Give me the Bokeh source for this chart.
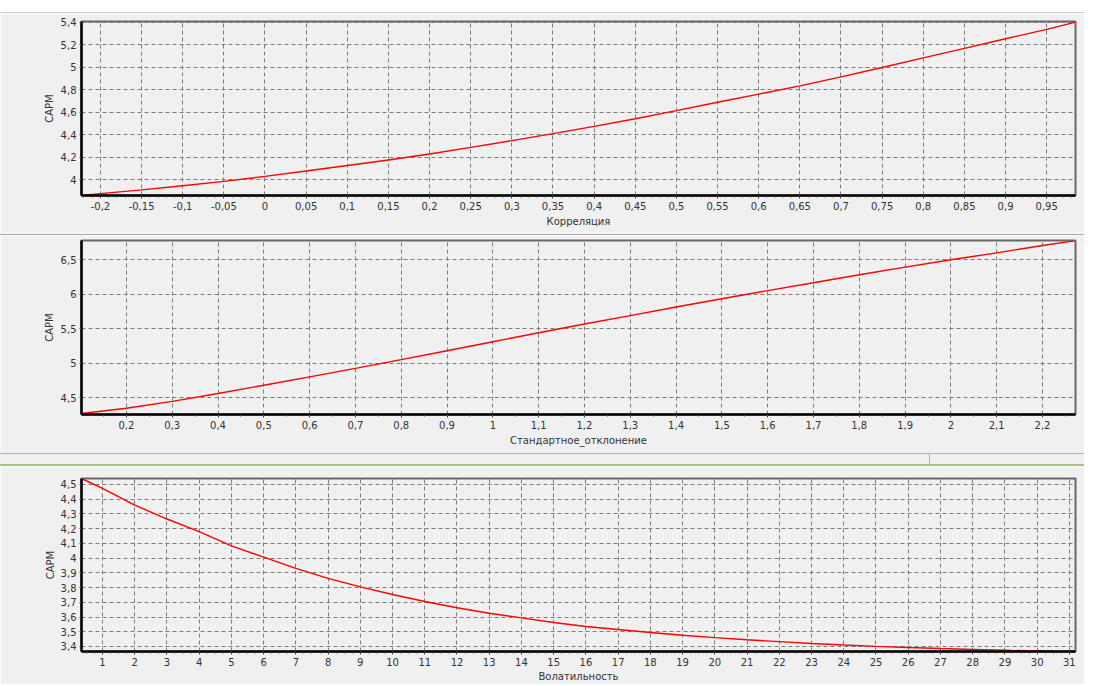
import numpy as np
from bokeh.plotting import figure
from bokeh.models import Range1d, FixedTicker, CustomJSTickFormatter, Div
from bokeh.layouts import column
from bokeh.embed import file_html
from bokeh.resources import INLINE

# ---------------- data ----------------
corr_x = [-0.223, -0.2, -0.15, -0.1, -0.05, 0.0, 0.05, 0.1, 0.15, 0.2, 0.25, 0.3,
          0.35, 0.4, 0.45, 0.5, 0.55, 0.6, 0.65, 0.7, 0.75, 0.8, 0.85, 0.9, 0.95, 0.985]
corr_capm = [3.861, 3.877, 3.910, 3.947, 3.985, 4.030, 4.078, 4.126, 4.175, 4.229, 4.287, 4.347,
             4.409, 4.474, 4.542, 4.614, 4.688, 4.760, 4.833, 4.913, 4.997, 5.082, 5.166, 5.252,
             5.335, 5.400]

std_x = [0.102, 0.2, 0.3, 0.4, 0.5, 0.6, 0.7, 0.8, 0.9, 1.0, 1.1, 1.2, 1.3, 1.4, 1.5,
         1.6, 1.7, 1.8, 1.9, 2.0, 2.1, 2.2, 2.27]
std_capm = [4.268, 4.345, 4.445, 4.558, 4.679, 4.800, 4.923, 5.050, 5.180, 5.310, 5.440,
            5.567, 5.690, 5.815, 5.935, 6.052, 6.167, 6.283, 6.394, 6.500, 6.601, 6.708, 6.775]

vol_x = [0.35, 1, 2, 3, 4, 5, 6, 7, 8, 9, 10, 11, 12, 13, 14, 15, 16, 17, 18, 19, 20,
         21, 22, 23, 24, 25, 26, 27, 28, 29, 29.2, 30.5]
vol_capm = [4.540, 4.473, 4.360, 4.265, 4.180, 4.083, 4.007, 3.930, 3.862, 3.805, 3.753,
            3.705, 3.663, 3.626, 3.594, 3.563, 3.536, 3.515, 3.495, 3.476, 3.460, 3.446,
            3.433, 3.420, 3.410, 3.401, 3.393, 3.386, 3.380, 3.375, 3.373, 3.368]

corr_xticks = [round(v, 2) for v in np.arange(-0.2, 0.951, 0.05)]
corr_yticks = [4.0, 4.2, 4.4, 4.6, 4.8, 5.0, 5.2, 5.4]
std_xticks = [round(v, 1) for v in np.arange(0.2, 2.21, 0.1)]
std_yticks = [4.5, 5.0, 5.5, 6.0, 6.5]
vol_xticks = list(range(1, 32))
vol_yticks = [round(v, 1) for v in np.arange(3.4, 4.51, 0.1)]

corr_xminor = [round(v, 3) for v in np.arange(-0.22, 0.99, 0.01)]
std_xminor = [round(v, 3) for v in np.arange(0.15, 2.27, 0.05)]
vol_xminor = [round(v, 3) for v in np.arange(0.5, 31.2, 0.25)]

FONT = "DejaVu Sans"
TXT = "#333333"
BG = "#f0f0f0"
W = 1084

fmt_code = "return (Math.round(tick*1000)/1000).toString().replace('.', ',');"


def make_fig(height, xr, yr, xticks, xminor, yticks, xlabel, x, y,
             left, right, top, bottom, lab_standoff=3, maj_standoff=3):
    p = figure(width=W, height=height, x_range=Range1d(*xr), y_range=Range1d(*yr),
               output_backend="svg", toolbar_location=None,
               min_border_left=left, min_border_right=right,
               min_border_top=top, min_border_bottom=bottom)
    p.background_fill_color = BG
    p.border_fill_color = BG
    p.outline_line_color = "#686868"
    p.outline_line_width = 2

    p.xaxis.ticker = FixedTicker(ticks=xticks, minor_ticks=xminor)
    p.yaxis.ticker = FixedTicker(ticks=yticks)
    p.xaxis.formatter = CustomJSTickFormatter(code=fmt_code)
    p.yaxis.formatter = CustomJSTickFormatter(code=fmt_code)
    p.xaxis.axis_label = xlabel
    p.yaxis.axis_label = "CAPM"

    for ax in (p.xaxis, p.yaxis):
        ax.axis_line_color = "black"
        ax.axis_line_width = 2.5
        ax.major_label_text_font = FONT
        ax.major_label_text_font_size = "10px"
        ax.major_label_text_color = TXT
        ax.axis_label_text_font = FONT
        ax.axis_label_text_font_size = "10px"
        ax.axis_label_text_font_style = "normal"
        ax.axis_label_text_color = TXT
        ax.major_tick_in = 0
        ax.minor_tick_in = 0
        ax.major_tick_line_color = "#444444"
        ax.minor_tick_line_color = "#444444"
        ax.axis_label_standoff = lab_standoff
        ax.major_label_standoff = maj_standoff
    p.xaxis.major_tick_out = 3
    p.xaxis.minor_tick_out = 2
    p.yaxis.major_tick_out = 2
    p.yaxis.minor_tick_line_color = None

    p.grid.grid_line_color = "#7c7c7c"
    p.grid.grid_line_dash = "4 3"
    p.grid.grid_line_width = 1

    p.line(x, y, line_color="#ff0000", line_width=1.4)
    return p


top_div = Div(text="", width=W, height=13, margin=0,
              styles={"background-color": "#ffffff", "border-bottom": "1px solid #c8c8c8",
                      "box-sizing": "border-box"})
p1 = make_fig(219, (-0.223, 0.985), (3.86, 5.405), corr_xticks, corr_xminor, corr_yticks,
              "Корреляция", corr_x, corr_capm, left=77, right=9, top=8, bottom=37)
sep1 = Div(text="", width=W, height=3, margin=0,
           styles={"background-color": "#f6f6f6", "border-bottom": "1px solid #a8a8a8",
                   "box-sizing": "border-box"})
p2 = make_fig(217, (0.102, 2.272), (4.254, 6.78), std_xticks, std_xminor, std_yticks,
              "Стандартное_отклонение", std_x, std_capm, left=81, right=6, top=5, bottom=38)
band_html = (
    '<div style="position:relative;width:1084px;height:14px;background:#f0f0f0;">'
    '<div style="position:absolute;left:0;top:1px;width:1084px;height:1px;background:#b4b4b4"></div>'
    '<div style="position:absolute;left:929px;top:1px;width:1px;height:12px;background:#b4b4b4"></div>'
    '<div style="position:absolute;left:0;top:12px;width:1084px;height:2px;background:#a9c18c"></div>'
    '</div>'
)
band = Div(text=band_html, width=W, height=14, margin=0,
           styles={"background-color": BG})
p3 = make_fig(218, (0.35, 31.19), (3.366, 4.54), vol_xticks, vol_xminor, vol_yticks,
              "Волатильность", vol_x, vol_capm, left=77, right=9, top=12, bottom=32,
              lab_standoff=2, maj_standoff=3)

layout = column(top_div, p1, sep1, p2, band, p3, spacing=0)

open("out.html", "w").write(file_html(layout, INLINE))
